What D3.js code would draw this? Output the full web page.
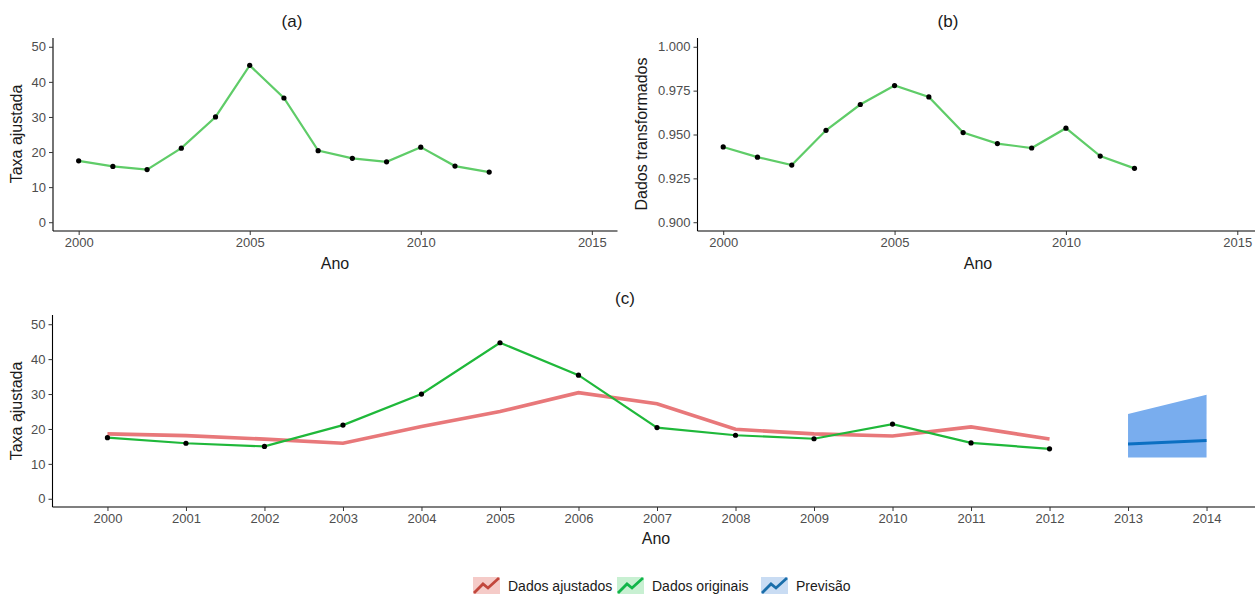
<!DOCTYPE html>
<html lang="pt">
<head>
    <meta charset="UTF-8">
    <title>Taxa ajustada</title>
    <script src="https://cdn.jsdelivr.net/npm/d3@7/dist/d3.min.js"></script>
    <style>
        body { margin: 0; background: #fff; }
        text { font-family: Arial, "Liberation Sans", sans-serif; }
    </style>
</head>
<body>
<script>
    // dados
    let anos = [2000, 2001, 2002, 2003, 2004, 2005, 2006, 2007, 2008, 2009, 2010, 2011, 2012];
    let taxaOriginal = [17.5, 15.9, 15.0, 21.1, 30.0, 44.7, 35.4, 20.4, 18.2, 17.2, 21.4, 16.0, 14.3];
    let transformados = [0.9429, 0.9371, 0.9326, 0.9524, 0.9671, 0.9779, 0.9714, 0.9511, 0.9448, 0.9423, 0.9536, 0.9377, 0.9307];
    let taxaAjustada = [18.6, 18.1, 17.1, 15.9, 20.7, 25.0, 30.4, 27.2, 19.9, 18.6, 18.0, 20.6, 17.1];
    let anosPrev = [2013, 2014];
    let previsao = [15.7, 16.7];
    let prevInf = [11.8, 11.8];
    let prevSup = [24.3, 29.8];
    let ticksAB = [2000, 2005, 2010, 2015];
    let ticksC = [2000, 2001, 2002, 2003, 2004, 2005, 2006, 2007, 2008, 2009, 2010, 2011, 2012, 2013, 2014];
    let ticksTaxa = [0, 10, 20, 30, 40, 50];
    let ticksTrans = [0.900, 0.925, 0.950, 0.975, 1.000];
    let legenda = ["Dados ajustados", "Dados originais", "Previsão"];

    let width = 1255;
    let height = 596;
    let svg = d3.select("body").append("svg")
        .attr("width", width)
        .attr("height", height);

    let corLinha = "#5fcc68";
    let corOrig = "#1fb83a";
    let corAjust = "#e8787a";

    function eixos(g, x, y, xt, yt, fmt, top, bottom, left, right) {
        let xAxis = d3.axisBottom(x).tickValues(xt).tickFormat(d3.format("d"))
            .tickSizeOuter(0).tickSizeInner(4).tickPadding(3);
        let yAxis = d3.axisLeft(y).tickValues(yt).tickFormat(fmt)
            .tickSizeOuter(0).tickSizeInner(4).tickPadding(3);
        let gx = g.append("g").attr("transform", `translate(0,${bottom})`).call(xAxis);
        let gy = g.append("g").attr("transform", `translate(${left},0)`).call(yAxis);
        [gx, gy].forEach(a => {
            a.select(".domain").attr("stroke", "#000").attr("stroke-width", 1.1);
            a.selectAll(".tick line").attr("stroke", "#333");
            a.selectAll("text").attr("fill", "#4d4d4d").attr("font-size", "13px")
                .attr("font-family", "Arial, 'Liberation Sans', sans-serif");
        });
        gx.select(".domain").attr("d", `M${left},0H${right}`);
        gy.select(".domain").attr("d", `M0,${top}V${bottom}`);
    }

    function rotulo(txt, x, y, rot, tam) {
        svg.append("text")
            .attr("x", x).attr("y", y)
            .attr("text-anchor", "middle")
            .attr("dominant-baseline", "middle")
            .attr("font-size", (tam || 16) + "px")
            .attr("fill", "#1a1a1a")
            .attr("transform", rot ? `rotate(-90,${x},${y})` : null)
            .text(txt);
    }

    // painel (a)
    let xa = d3.scaleLinear().domain([1999.25, 2015.75]).range([53, 617.5]);
    let ya = d3.scaleLinear().domain([-2.5, 52.5]).range([231, 38]);
    eixos(svg, xa, ya, ticksAB, ticksTaxa, d3.format("d"), 38, 231, 53, 617.5);
    let linhaA = d3.line().x((d, i) => xa(anos[i])).y(d => ya(d));
    svg.append("path").attr("d", linhaA(taxaOriginal))
        .attr("fill", "none").attr("stroke", corLinha).attr("stroke-width", 2.2);
    svg.append("g").selectAll("circle").data(taxaOriginal).join("circle")
        .attr("cx", (d, i) => xa(anos[i])).attr("cy", d => ya(d)).attr("r", 2.6).attr("fill", "#000");
    rotulo("(a)", 292, 23, false, 17);
    rotulo("Ano", 335, 265);
    rotulo("Taxa ajustada", 18, 134, true);

    // painel (b)
    let xb = d3.scaleLinear().domain([1999.25, 2015.75]).range([697.5, 1263]);
    let yb = d3.scaleLinear().domain([0.895, 1.005]).range([231, 38]);
    eixos(svg, xb, yb, ticksAB, ticksTrans, d3.format(".3f"), 38, 231, 697.5, 1263);
    let linhaB = d3.line().x((d, i) => xb(anos[i])).y(d => yb(d));
    svg.append("path").attr("d", linhaB(transformados))
        .attr("fill", "none").attr("stroke", corLinha).attr("stroke-width", 2.2);
    svg.append("g").selectAll("circle").data(transformados).join("circle")
        .attr("cx", (d, i) => xb(anos[i])).attr("cy", d => yb(d)).attr("r", 2.6).attr("fill", "#000");
    rotulo("(b)", 948, 23, false, 17);
    rotulo("Ano", 978, 265);
    rotulo("Dados transformados", 643, 134, true);

    // painel (c)
    let xc = d3.scaleLinear().domain([1999.3, 2014.7]).range([52.5, 1261.5]);
    let yc = d3.scaleLinear().domain([-2.5, 52.5]).range([507.5, 315.5]);
    eixos(svg, xc, yc, ticksC, ticksTaxa, d3.format("d"), 315, 507, 52.5, 1261.5);

    let area = d3.area()
        .x((d, i) => xc(anosPrev[i]))
        .y0((d, i) => yc(prevInf[i]))
        .y1(d => yc(d));
    svg.append("path").attr("d", area(prevSup)).attr("fill", "#79adee");
    let linhaPrev = d3.line().x((d, i) => xc(anosPrev[i])).y(d => yc(d));
    svg.append("path").attr("d", linhaPrev(previsao))
        .attr("fill", "none").attr("stroke", "#0b6fc2").attr("stroke-width", 3);

    let linhaC = d3.line().x((d, i) => xc(anos[i])).y(d => yc(d));
    svg.append("path").attr("d", linhaC(taxaAjustada))
        .attr("fill", "none").attr("stroke", corAjust).attr("stroke-width", 3.6);
    svg.append("path").attr("d", linhaC(taxaOriginal))
        .attr("fill", "none").attr("stroke", corOrig).attr("stroke-width", 2.2);
    svg.append("g").selectAll("circle").data(taxaOriginal).join("circle")
        .attr("cx", (d, i) => xc(anos[i])).attr("cy", d => yc(d)).attr("r", 2.6).attr("fill", "#000");
    rotulo("(c)", 625, 300, false, 17);
    rotulo("Ano", 656, 540);
    rotulo("Taxa ajustada", 18, 411, true);

    // legenda
    let corFundo = ["#f5cbc8", "#c8f0d2", "#c9dcf3"];
    let corIcone = ["#c2473d", "#12b54a", "#1a6eaa"];
    let posX = [473, 617, 761];
    let zig = d3.line();
    legenda.forEach((nome, i) => {
        let g = svg.append("g").attr("transform", `translate(${posX[i]},577)`);
        g.append("rect").attr("width", 27).attr("height", 17).attr("fill", corFundo[i]);
        g.append("path")
            .attr("d", zig([[1, 16], [10, 7], [15, 11], [26, 1]]))
            .attr("fill", "none").attr("stroke", corIcone[i]).attr("stroke-width", 2.8);
        g.append("text").attr("x", 35).attr("y", 10)
            .attr("dominant-baseline", "middle")
            .attr("font-size", "14px").attr("fill", "#1a1a1a")
            .text(nome);
    });
</script>
</body>
</html>
